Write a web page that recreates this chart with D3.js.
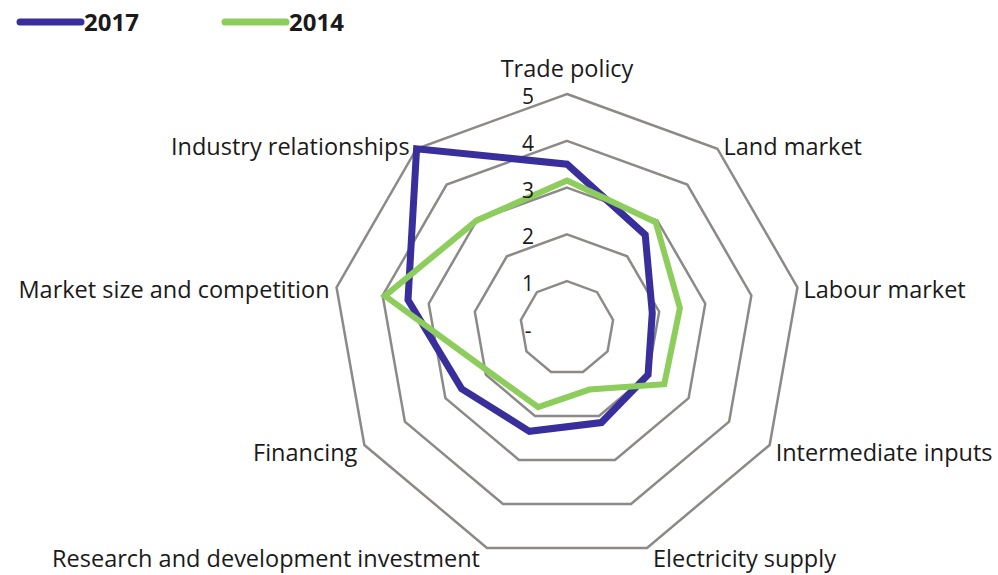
<!DOCTYPE html>
<html><head><meta charset="utf-8">
<script src="https://cdn.jsdelivr.net/npm/d3@7"></script>
<style>
html,body{margin:0;padding:0;background:#fff;}
svg text{font-family:"Open Sans","Noto Sans",sans-serif;fill:#1a1a1a;}
</style></head>
<body><svg id="chart" width="998" height="575"></svg>
<script>
const categories = ["Trade policy","Land market","Labour market","Intermediate inputs","Electricity supply","Research and development investment","Financing","Market size and competition","Industry relationships"];
const series2017 = [3.5, 2.6, 1.85, 2.0, 2.15, 2.35, 2.6, 3.45, 5.0];
const series2014 = [3.15, 2.95, 2.45, 2.4, 1.4, 1.8, 1.9, 3.95, 3.0];
const tickValues = [0, 1, 2, 3, 4, 5];
const tickLabels = ["-", "1", "2", "3", "4", "5"];
const seriesNames = ["2017", "2014"];
const colors = ["#382e9c", "#8ccd5b"];

const svg = d3.select("#chart");
const cx = 567, cy = 328, R = 234;
const r = d3.scaleLinear().domain([0, 5]).range([0, R]);
const n = categories.length;
const ang = d3.scaleLinear().domain([0, n]).range([0, 2 * Math.PI]);
const g = svg.append("g").attr("transform", `translate(${cx},${cy})`);

const radial = d3.lineRadial().angle((d, i) => ang(i)).radius(d => r(d)).curve(d3.curveLinearClosed);

// grid rings
g.selectAll("path.grid").data(tickValues.filter(v => v > 0)).enter().append("path")
  .attr("class", "grid")
  .attr("d", v => radial(categories.map(() => v)))
  .attr("fill", "none").attr("stroke", "#8d8987").attr("stroke-width", 2.5)
  .attr("stroke-linejoin", "miter");

// series
const data = [series2017, series2014];
g.selectAll("path.series").data(data).enter().append("path")
  .attr("class", "series")
  .attr("d", d => radial(d))
  .attr("fill", "none")
  .attr("stroke", (d, i) => colors[i])
  .attr("stroke-width", (d, i) => i === 0 ? 7 : 6)
  .attr("stroke-linejoin", "miter");

// tick labels
g.selectAll("text.tick").data(tickValues).enter().append("text")
  .attr("class", "tick")
  .attr("x", -39)
  .attr("y", v => -r(v) + 10)
  .attr("text-anchor", "middle")
  .attr("font-size", 21)
  .text((v, i) => tickLabels[i]);

// category labels
g.selectAll("text.cat").data(categories).enter().append("text")
  .attr("class", "cat")
  .attr("font-size", 23.5)
  .each(function (d, i) {
    const a = ang(i);
    const vx = Math.sin(a) * R, vy = -Math.cos(a) * R;
    const t = d3.select(this);
    if (i === 0) {
      t.attr("x", vx).attr("y", vy - 17).attr("text-anchor", "middle");
    } else {
      const right = Math.sin(a) > 0;
      t.attr("x", vx + (right ? 6 : -7))
       .attr("y", vy + 12 - 8 * Math.cos(a))
       .attr("text-anchor", right ? "start" : "end");
    }
    t.text(d);
  });

// legend
const leg = svg.append("g");
seriesNames.forEach((name, i) => {
  const x0 = 20 + i * 205;
  leg.append("line").attr("x1", x0).attr("x2", x0 + 61).attr("y1", 22).attr("y2", 22)
    .attr("stroke", colors[i]).attr("stroke-width", 7).attr("stroke-linecap", "round");
  leg.append("text").attr("x", x0 + 64).attr("y", 31).attr("font-size", 24)
    .attr("font-weight", "bold").text(name);
});
</script></body></html>
